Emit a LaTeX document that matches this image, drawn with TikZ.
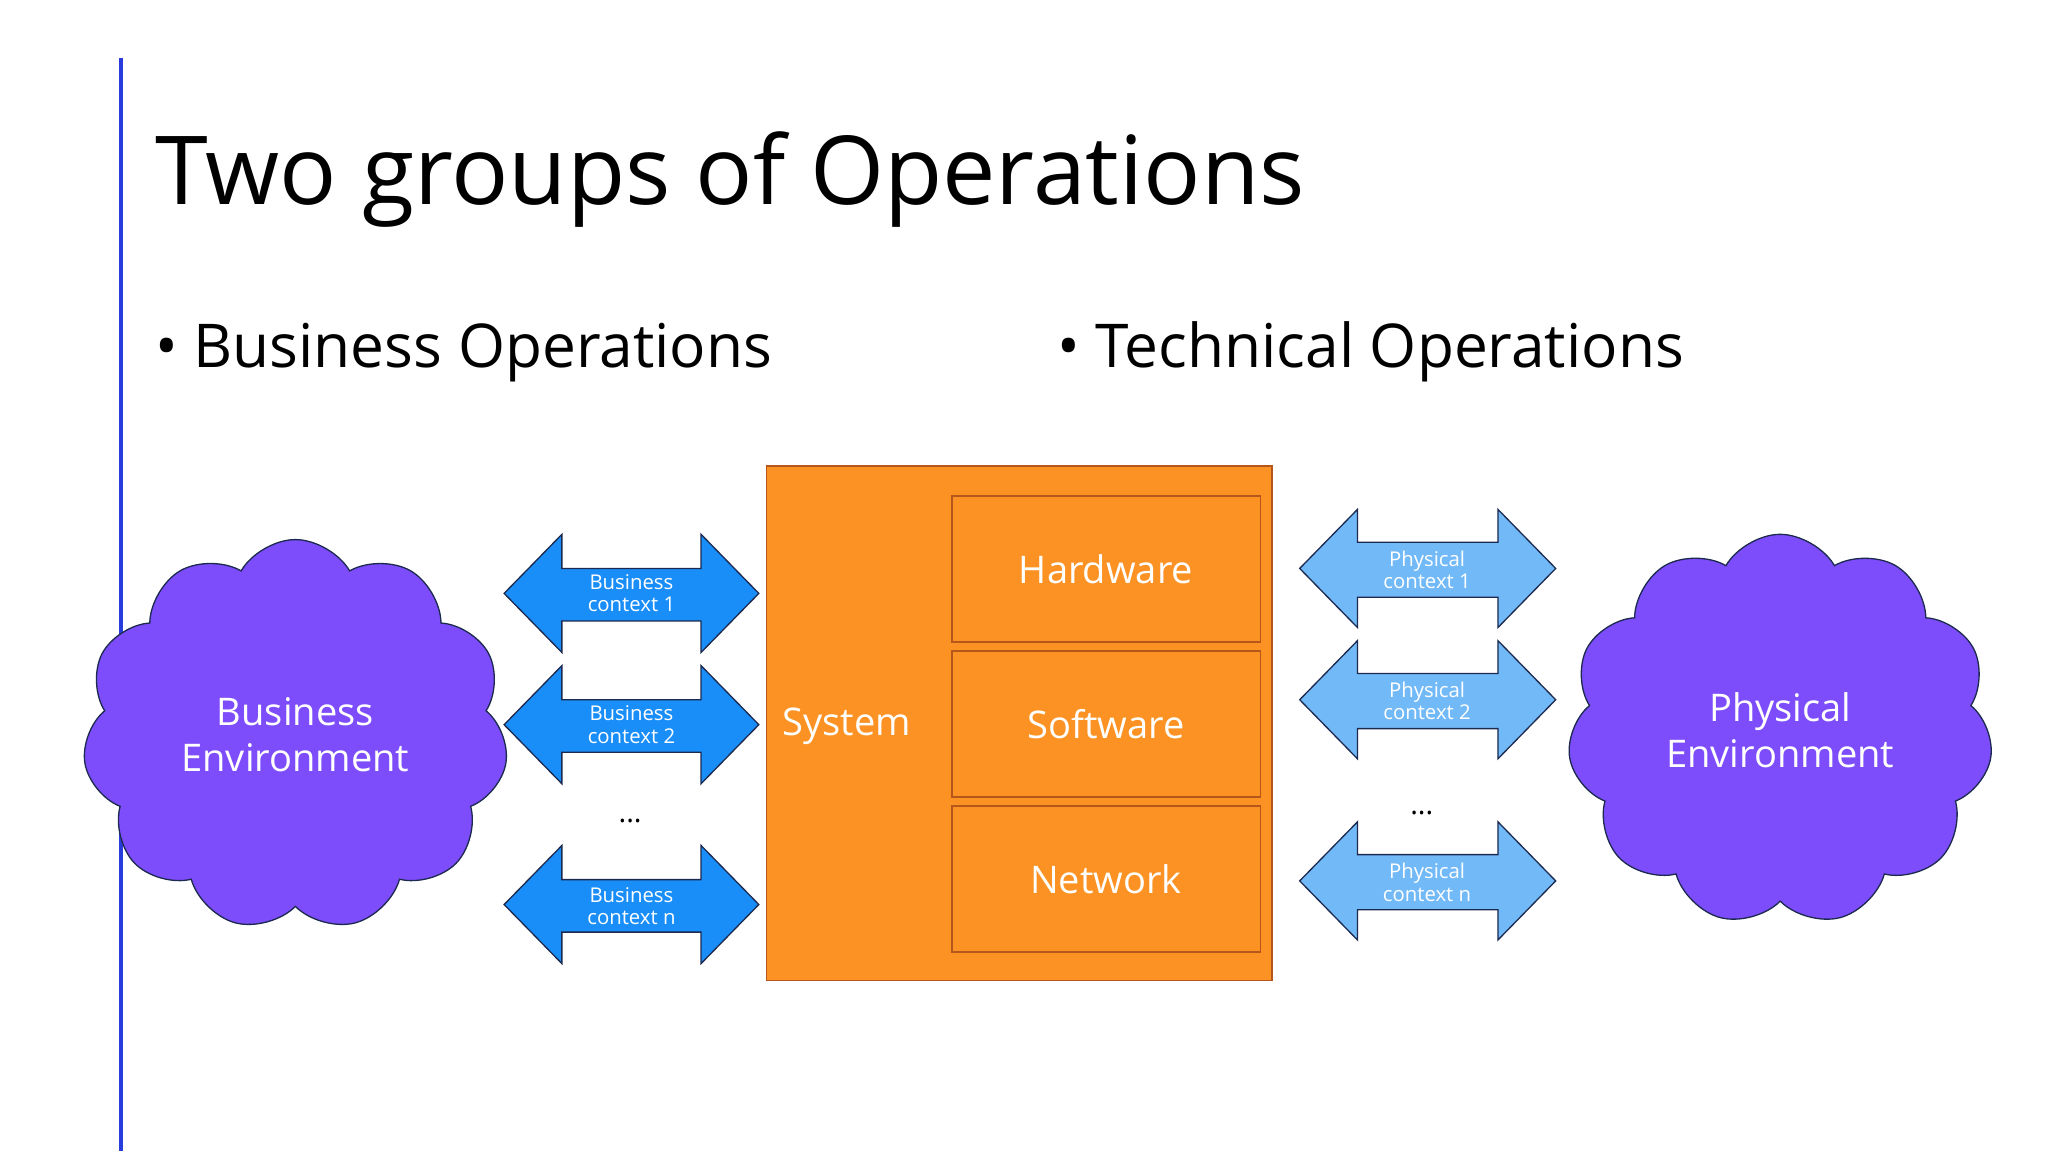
\documentclass[tikz,border=0pt]{standalone}
\usepackage{fontspec}
\setmainfont{Open Sans}
\usetikzlibrary{shapes.symbols}
\definecolor{orng}{HTML}{FB9223}
\definecolor{orngd}{HTML}{B5561A}
\definecolor{bizb}{HTML}{1A8EF8}
\definecolor{phyb}{HTML}{72B9F8}
\definecolor{purp}{HTML}{7E4DFB}
\definecolor{navy}{HTML}{1C2A50}
\tikzset{
  box/.style={draw=orngd,line width=1.2pt,fill=orng},
  inbox/.style={draw=orngd,line width=1.2pt,fill=orng,minimum width=235pt,minimum height=111pt,text=white,font=\fontsize{29}{32}\selectfont},
  cld/.style={cloud,cloud puffs=11,cloud puff arc=120,aspect=1.1,draw=navy,line width=1pt,fill=purp,text=white,align=center,font=\fontsize{29}{35}\selectfont,minimum width=324pt,minimum height=298pt},
  albl/.style={text=white,align=center,font=\fontsize{15.5}{20}\selectfont},
  dots/.style={font=\fontsize{22}{24}\selectfont},
  barr/.style={draw=navy,line width=1pt,fill=bizb},
  parr/.style={draw=navy,line width=1pt,fill=phyb}
}
\begin{document}
\begin{tikzpicture}[x=1pt,y=-1pt]
\useasboundingbox (0,0) rectangle (1560,877);
\fill[white] (0,0) rectangle (1560,877);
\draw[line width=3pt,color={rgb,255:red,40;green,60;blue,220}] (92,44) -- (92,877);
\node[anchor=base west,inner sep=0,font=\fontsize{72.5}{80}\selectfont] (title) at (118,156) {Two groups of Operations};
\node[anchor=base west,inner sep=0,font=\fontsize{46}{50}\selectfont] (b1) at (118,280) {• Business Operations};
\node[anchor=base west,inner sep=0,font=\fontsize{46}{50}\selectfont] (b2) at (805,280) {• Technical Operations};
% system
\draw[box] (584,355) rectangle (969,747);
\node[text=white,font=\fontsize{29}{32}\selectfont] (sys) at (645,553) {System};
\node[inbox] (hw) at (842.5,433.5) {Hardware};
\node[inbox] (sw) at (842.5,551.5) {Software};
\node[inbox] (nw) at (842.5,669.5) {Network};
% business arrows
\draw[barr] (384,452) -- (428,407) -- (428,433) -- (534,433) -- (534,407) -- (578,452) -- (534,497) -- (534,473) -- (428,473) -- (428,497) -- cycle;
\node[albl] (ba1) at (481,452) {Business\\[-3pt]context 1};
\draw[barr] (384,552) -- (428,507) -- (428,533) -- (534,533) -- (534,507) -- (578,552) -- (534,597) -- (534,573) -- (428,573) -- (428,597) -- cycle;
\node[albl] (ba2) at (481,552) {Business\\[-3pt]context 2};
\draw[barr] (384,689) -- (428,644) -- (428,670) -- (534,670) -- (534,644) -- (578,689) -- (534,734) -- (534,710) -- (428,710) -- (428,734) -- cycle;
\node[albl] (ba3) at (481,690) {Business\\[-3pt]context n};
\node[dots] (d1) at (480,625) {...};
% physical arrows
\draw[parr] (990,433) -- (1034,388) -- (1034,413) -- (1141,413) -- (1141,388) -- (1185,433) -- (1141,478) -- (1141,455) -- (1034,455) -- (1034,478) -- cycle;
\node[albl] (pa1) at (1087,434) {Physical\\[-3pt]context 1};
\draw[parr] (990,533) -- (1034,488) -- (1034,513) -- (1141,513) -- (1141,488) -- (1185,533) -- (1141,578) -- (1141,555) -- (1034,555) -- (1034,578) -- cycle;
\node[albl] (pa2) at (1087,534) {Physical\\[-3pt]context 2};
\draw[parr] (990,671) -- (1034,626) -- (1034,651) -- (1141,651) -- (1141,626) -- (1185,671) -- (1141,716) -- (1141,693) -- (1034,693) -- (1034,716) -- cycle;
\node[albl] (pa3) at (1087,672) {Physical\\[-3pt]context n};
\node[dots] (d2) at (1083,619) {...};
% clouds
\node[cld] (be) at (225,560) {Business\\Environment};
\node[cld] (pe) at (1356,556) {Physical\\Environment};
\end{tikzpicture}
\end{document}
